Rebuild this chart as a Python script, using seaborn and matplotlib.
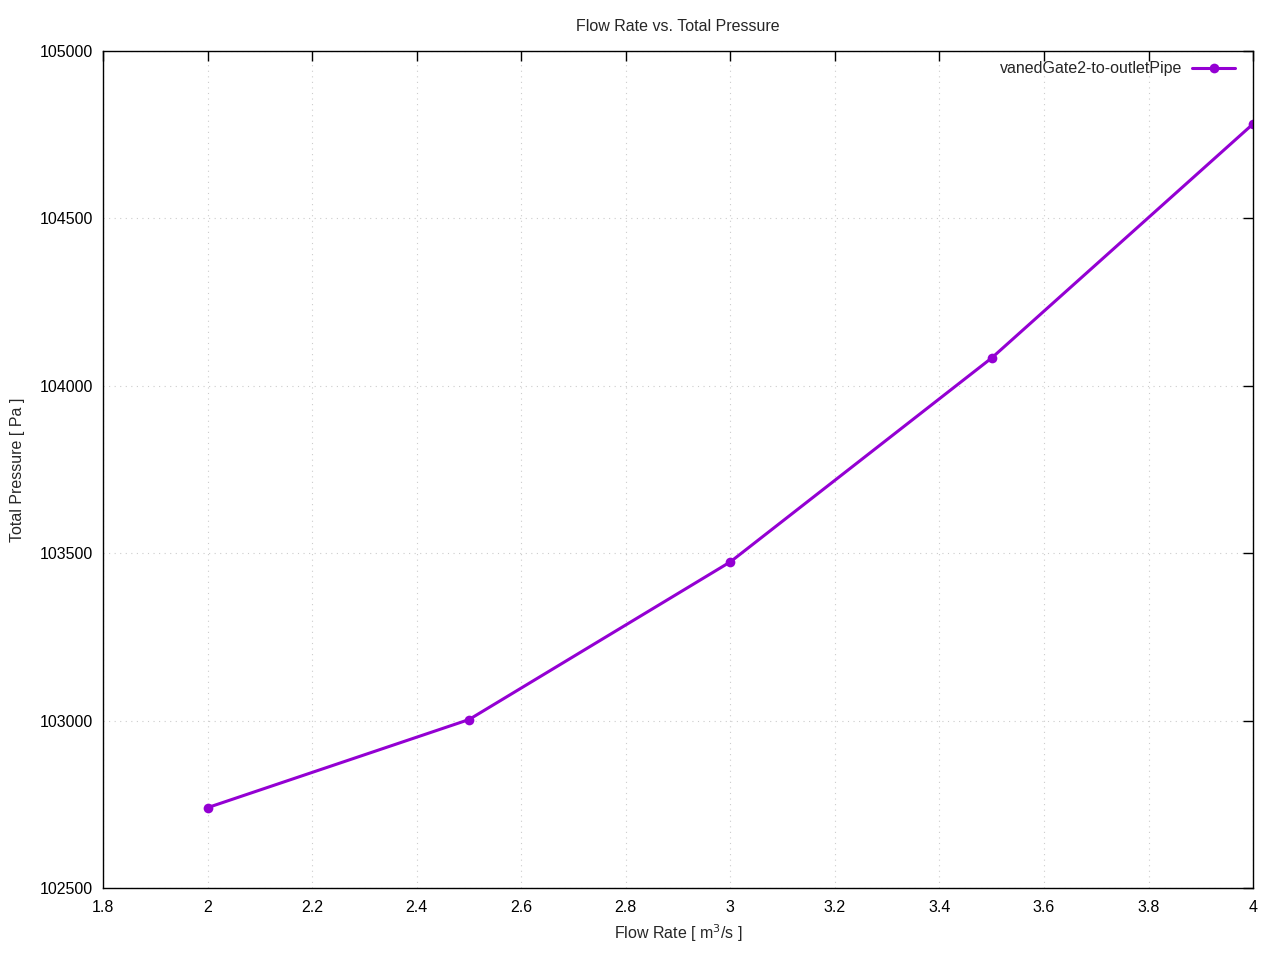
import matplotlib
matplotlib.use("Agg")
import matplotlib.pyplot as plt
import seaborn as sns
import pandas as pd

# values
flow_rate = [2.0, 2.5, 3.0, 3.5, 4.0]
total_pressure = [102740, 103003, 103474, 104083, 104782]
series_name = "vanedGate2-to-outletPipe"

df = pd.DataFrame({"flow": flow_rate, "pressure": total_pressure})

sns.set_style("white")
plt.rcParams['font.family'] = ['Liberation Sans', 'DejaVu Sans']
plt.rcParams['font.size'] = 11.5

fig = plt.figure(figsize=(12.8, 9.6), dpi=100)
ax = fig.add_axes([0.0805, 0.075, 0.8985, 0.872])

sns.lineplot(data=df, x="flow", y="pressure", ax=ax, color="#9400d3",
             linewidth=2.2, marker="o", markersize=7, markeredgewidth=0,
             label=series_name)

ax.set_xlim(1.8, 4.0)
ax.set_ylim(102500, 105000)
ax.set_xticks([1.8, 2.0, 2.2, 2.4, 2.6, 2.8, 3.0, 3.2, 3.4, 3.6, 3.8, 4.0])
ax.set_xticklabels(["1.8", "2", "2.2", "2.4", "2.6", "2.8", "3", "3.2", "3.4", "3.6", "3.8", "4"])
ax.set_yticks([102500, 103000, 103500, 104000, 104500, 105000])
ax.grid(True, color="#cccccc", linestyle=(0, (1, 4)), linewidth=0.8)
ax.tick_params(direction="in", length=7, width=1, top=True, right=True,
               labelsize=11.5, colors="black")
ax.tick_params(axis="x", pad=9)
ax.tick_params(axis="y", pad=7)
for s in ax.spines.values():
    s.set_color("black")
    s.set_linewidth(1)

ax.set_title("Flow Rate vs. Total Pressure", fontsize=11.5, pad=14)
ax.set_xlabel("Flow Rate [ m$^3$/s ]", fontsize=11.5, labelpad=5)
ax.set_ylabel("Total Pressure [ Pa ]", fontsize=11.5)
ax.yaxis.set_label_coords(-0.068, 0.5)

ax.legend(loc="upper right", bbox_to_anchor=(0.9935, 1.0), frameon=False,
          markerfirst=False, fontsize=11.5, handlelength=2.7,
          borderaxespad=0.25, handletextpad=0.6)

fig.savefig("out.png", dpi=100)
